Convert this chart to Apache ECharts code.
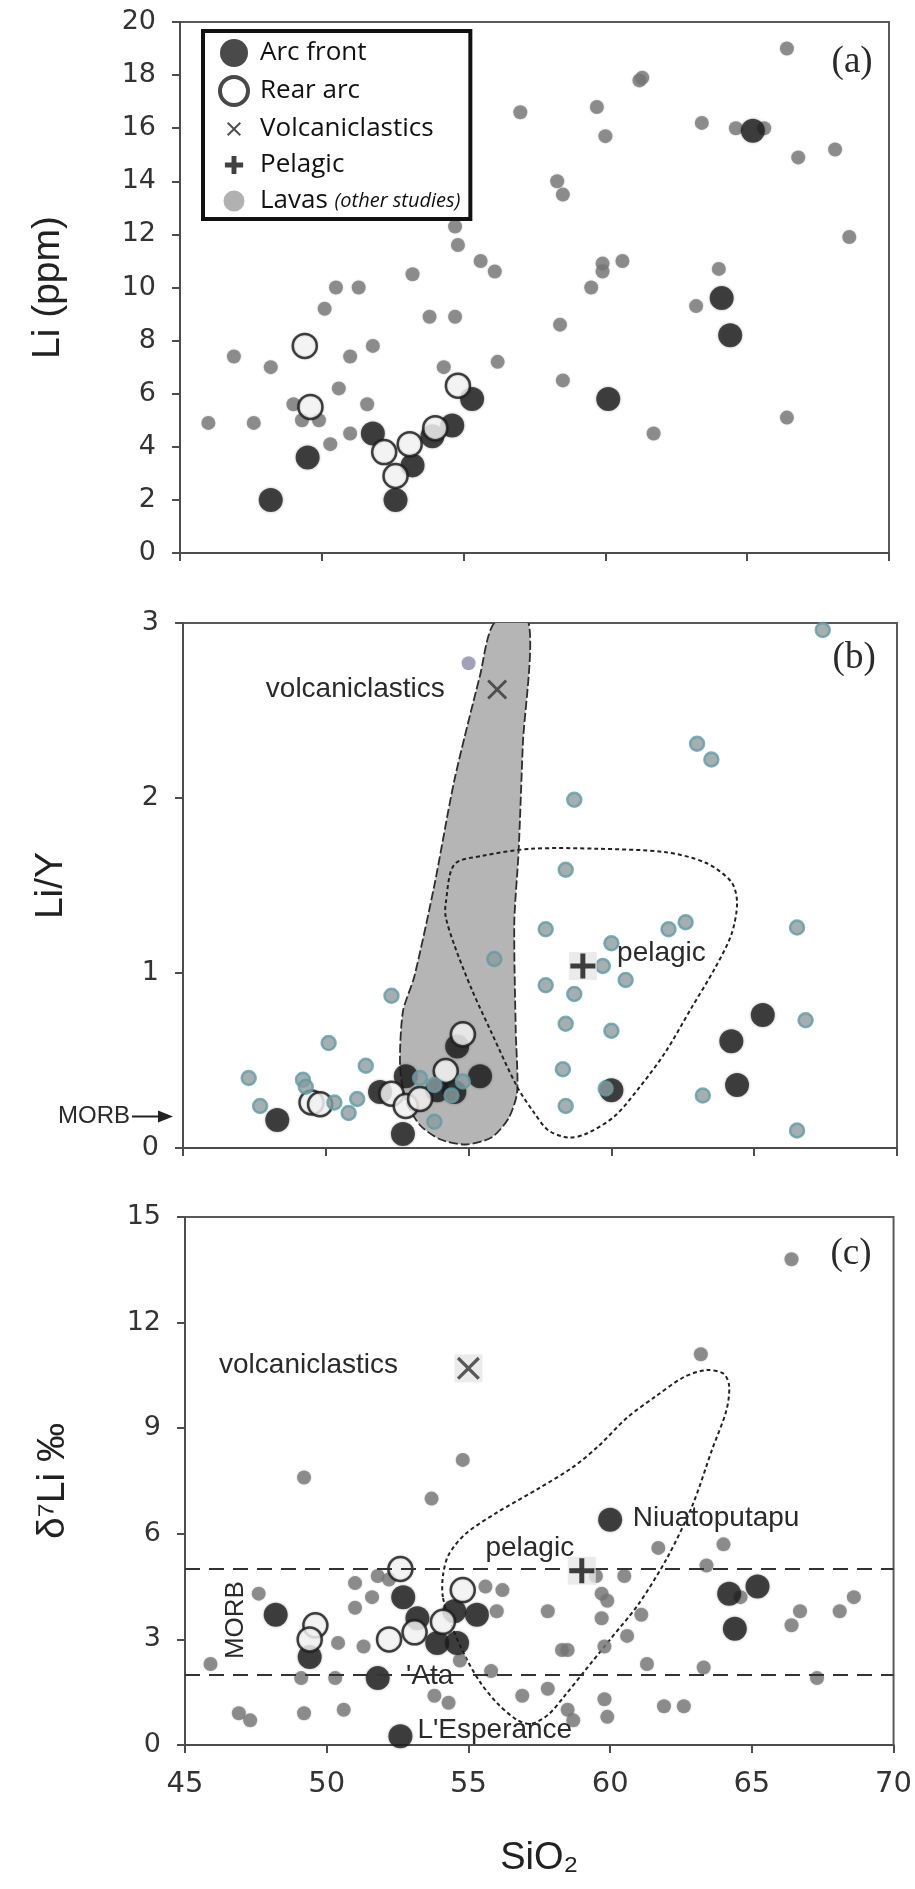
<!DOCTYPE html>
<html>
<head>
<meta charset="utf-8">
<script src="https://cdn.jsdelivr.net/npm/echarts@6/dist/echarts.min.js"></script>
<style>
  html, body { margin: 0; padding: 0; background: #fff; }
  #chart { width: 915px; height: 1889px; }
</style>
</head>
<body>
<div id="chart"></div>
<script>
// shared SiO2 axis
const siO2Range = [45, 70, 5];

// (a) Li (ppm)
const liRange = [0, 20, 2];
const liLavas = [
  [46.0, 4.9], [46.9, 7.4], [47.6, 4.9], [48.2, 7.0], [49.0, 5.6], [49.3, 5.0], [49.9, 5.0],
  [50.1, 9.2], [50.5, 10.0], [51.3, 10.0], [50.6, 6.2], [50.3, 4.1], [51.0, 7.4], [51.0, 4.5],
  [51.6, 5.6], [51.8, 7.8], [53.2, 10.5], [53.8, 8.9], [54.3, 7.0], [54.7, 8.9], [54.7, 12.3],
  [54.8, 11.6], [55.6, 11.0], [56.1, 10.6], [56.2, 7.2], [57.0, 16.6], [59.7, 16.8], [60.0, 15.7],
  [61.2, 17.8], [61.3, 17.9], [58.3, 14.0], [58.5, 13.5], [58.4, 8.6], [58.5, 6.5], [59.5, 10.0],
  [59.9, 10.9], [59.9, 10.6], [60.6, 11.0], [61.7, 4.5], [63.4, 16.2], [64.6, 16.0], [65.6, 16.0],
  [66.4, 19.0], [66.8, 14.9], [68.1, 15.2], [68.6, 11.9], [64.0, 10.7], [63.2, 9.3], [66.4, 5.1]
];
const liArcFront = [
  [48.2, 2.0], [49.5, 3.6], [51.8, 4.5], [52.6, 2.0], [53.2, 3.3], [53.9, 4.4], [54.6, 4.8],
  [55.3, 5.8], [60.1, 5.8], [64.1, 9.6], [64.4, 8.2], [65.2, 15.9]
];
const liRearArc = [
  [49.4, 7.8], [49.6, 5.5], [52.2, 3.8], [52.6, 2.9], [53.1, 4.1], [54.0, 4.7], [54.8, 6.3]
];

// (b) Li/Y
const liyRange = [0, 3, 1];
const liyLavas = [
  [47.3, 0.40], [47.7, 0.24], [49.2, 0.39], [49.3, 0.35], [50.1, 0.60], [50.3, 0.26], [50.8, 0.20],
  [51.1, 0.28], [51.4, 0.47], [52.3, 0.87], [53.3, 0.40], [53.8, 0.36], [54.4, 0.30], [54.8, 0.38],
  [53.8, 0.15], [55.9, 1.08], [67.4, 2.96], [63.0, 2.31], [63.5, 2.22], [58.7, 1.99], [58.4, 1.59],
  [57.7, 1.25], [60.0, 1.17], [62.0, 1.25], [62.6, 1.29], [66.5, 1.26], [59.7, 1.04], [60.5, 0.96],
  [57.7, 0.93], [58.7, 0.88], [58.4, 0.71], [60.0, 0.67], [66.8, 0.73], [58.3, 0.45], [59.8, 0.34],
  [58.4, 0.24], [63.2, 0.30], [66.5, 0.10]
];
const liyLavasViolet = [[55.0, 2.77]];
const liyArcFront = [
  [48.3, 0.16], [51.9, 0.32], [52.8, 0.41], [52.7, 0.08], [53.9, 0.33], [54.5, 0.32], [54.6, 0.58],
  [55.4, 0.41], [60.0, 0.33], [64.2, 0.61], [64.4, 0.36], [65.3, 0.76]
];
const liyRearArc = [
  [49.5, 0.26], [49.8, 0.25], [52.3, 0.31], [52.8, 0.24], [53.3, 0.28], [54.2, 0.44], [54.8, 0.65]
];
const liyVolcaniclastics = [[56.0, 2.62]];
const liyPelagic = [[59.0, 1.04]];
const liyMorb = 0.18;
const liyVolcField = [
  [55.9, 3.0], [55.4, 2.7], [54.5, 2.1], [53.8, 1.5], [53.1, 0.98], [52.7, 0.78], [52.6, 0.47],
  [52.8, 0.27], [53.3, 0.13], [54.0, 0.05], [54.9, 0.02], [55.8, 0.06], [56.4, 0.17], [56.7, 0.32],
  [56.65, 0.67], [56.6, 1.29], [56.75, 1.69], [56.9, 2.31], [57.1, 3.0]
];
const liyPelagicField = [
  [54.2, 1.40], [54.5, 1.62], [55.5, 1.67], [57.2, 1.71], [59.5, 1.71], [61.9, 1.69], [63.3, 1.63],
  [64.2, 1.52], [64.4, 1.40], [64.2, 1.22], [63.6, 1.02], [62.8, 0.80], [61.9, 0.55], [61.0, 0.35],
  [60.1, 0.18], [59.1, 0.08], [58.5, 0.06], [57.8, 0.10], [57.3, 0.20], [56.7, 0.35], [55.8, 0.66],
  [55.1, 0.91], [54.5, 1.16], [54.2, 1.32]
];

// (c) d7Li
const d7Range = [0, 15, 3];
const d7Lavas = [
  [45.9, 2.3], [46.9, 0.9], [47.3, 0.7], [47.6, 4.3], [49.2, 7.6], [49.1, 1.9], [49.2, 0.9],
  [50.4, 2.9], [50.3, 1.9], [50.6, 1.0], [51.0, 4.6], [51.0, 3.9], [51.3, 2.8], [51.6, 4.2],
  [51.8, 4.8], [52.2, 4.7], [53.7, 7.0], [54.8, 8.1], [53.8, 1.4], [54.3, 1.2], [54.7, 2.4],
  [55.6, 4.5], [56.2, 4.4], [56.0, 3.8], [55.8, 2.1], [56.9, 1.4], [66.4, 13.8], [63.2, 11.1],
  [61.7, 5.6], [64.0, 5.7], [63.4, 5.1], [60.5, 4.8], [59.5, 4.8], [57.8, 3.8], [59.7, 4.3],
  [59.9, 4.1], [59.7, 3.6], [61.1, 3.7], [58.3, 2.7], [58.5, 2.7], [59.8, 2.8], [60.6, 3.1],
  [61.3, 2.3], [63.3, 2.2], [64.6, 4.2], [66.7, 3.8], [66.4, 3.4], [68.1, 3.8], [68.6, 4.2],
  [67.3, 1.9], [57.8, 1.6], [59.8, 1.3], [59.9, 0.8], [61.9, 1.1], [62.6, 1.1], [58.5, 1.0], [58.7, 0.7]
];
const d7ArcFront = [
  [48.2, 3.7], [49.4, 2.5], [51.8, 1.9], [52.6, 0.25], [52.7, 4.2], [53.2, 3.6], [53.9, 2.9],
  [54.6, 2.9], [54.5, 3.8], [55.3, 3.7], [60.0, 6.4], [64.2, 4.3], [65.2, 4.5], [64.4, 3.3]
];
const d7RearArc = [
  [52.6, 5.0], [49.6, 3.4], [49.4, 3.0], [52.2, 3.0], [53.1, 3.2], [54.1, 3.5], [54.8, 4.4]
];
const d7Volcaniclastics = [[55.0, 10.7]];
const d7Pelagic = [[59.0, 4.95]];
const morbBand = [2, 5];
const d7PelagicField = [
  [54.1, 4.2], [54.1, 4.8], [54.3, 5.4], [54.9, 6.0], [56.0, 6.6], [57.5, 7.3], [58.7, 7.9],
  [59.6, 8.5], [60.6, 9.3], [61.6, 9.9], [62.6, 10.45], [63.4, 10.65], [64.0, 10.55], [64.2, 10.2],
  [64.1, 9.5], [63.6, 8.4], [62.9, 6.8], [62.0, 5.3], [61.0, 4.0], [60.0, 3.0], [59.1, 2.1],
  [58.4, 1.4], [57.8, 0.85], [57.2, 0.6], [56.7, 0.72], [56.0, 1.2], [55.4, 1.8], [54.9, 2.5], [54.4, 3.4]
];

// text notes: [text, x, y, align]
const notesA = [['(a)', 68.7, 18.5, 'center']];
const notesB = [['volcaniclastics', 47.9, 2.62, 'left'], ['pelagic', 60.2, 1.11, 'left'], ['(b)', 68.5, 2.8, 'center']];
const notesC = [
  ['volcaniclastics', 46.2, 10.8, 'left'], ['pelagic', 55.6, 5.6, 'left'], ['Niuatoputapu', 60.8, 6.44, 'left'],
  ["'Ata", 52.8, 1.96, 'left'], ["L'Esperance", 53.2, 0.42, 'left'], ['(c)', 68.5, 13.95, 'center']
];
const morbNoteC = [[46.8, 3.55]];

const chart = echarts.init(document.getElementById('chart'));

const xPath = 'path://M2,0L10,8L18,0L20,2L12,10L20,18L18,20L10,12L2,20L0,18L8,10L0,2Z';
const plusPath = 'path://M8,0H12V8H20V12H12V20H8V12H0V8H8Z';
// legend icons padded with invisible corner dots so they draw smaller
const pad = 'M0,0h0.01v0.01h-0.01zM40,40h-0.01v-0.01h0.01z';
const xIcon = 'path://' + pad + 'M12,10L20,18L28,10L30,12L22,20L30,28L28,30L20,22L12,30L10,28L18,20L10,12Z';
const plusIcon = 'path://' + pad + 'M16.5,7H23.5V16.5H33V23.5H23.5V33H16.5V23.5H7V16.5H16.5Z';
const lavaIcon = 'path://' + pad + 'M5,20a15,15 0 1,0 30,0a15,15 0 1,0 -30,0z';

const grids = [
  { left: 180, right: 26, top: 22, height: 531 },
  { left: 183, right: 18, top: 623, height: 525 },
  { left: 185, right: 20, top: 1217, height: 528 }
];
const yRanges = [liRange, liyRange, d7Range];
const yNames = ['Li (ppm)', 'Li/Y', 'δ⁷Li ‰'];

const lineCol = '#4d4d4d';

const xAxes = grids.map((g, i) => ({
  type: 'value', gridIndex: i, min: siO2Range[0], max: siO2Range[1], interval: siO2Range[2],
  axisLine: { show: true, lineStyle: { color: lineCol, width: 2 } },
  axisTick: { show: true, length: 8, lineStyle: { color: lineCol, width: 2 } },
  splitLine: { show: false },
  axisLabel: { show: i === 2, margin: 25, fontFamily: 'DejaVu Sans', fontSize: 29, color: '#333' },
  name: i === 2 ? 'SiO₂' : '', nameLocation: 'middle', nameGap: 95,
  nameTextStyle: { fontFamily: 'Liberation Sans', fontSize: 38, color: '#222' }
}));

const yAxes = grids.map((g, i) => ({
  type: 'value', gridIndex: i, min: yRanges[i][0], max: yRanges[i][1], interval: yRanges[i][2],
  axisLine: { show: true, lineStyle: { color: lineCol, width: 2 } },
  axisTick: { show: true, length: 8, lineStyle: { color: lineCol, width: 2 } },
  splitLine: { show: false },
  axisLabel: { margin: 24, fontFamily: 'DejaVu Sans', fontSize: 27, color: '#333' },
  name: yNames[i], nameLocation: 'middle', nameGap: 112,
  nameTextStyle: { fontFamily: 'Liberation Sans', fontSize: 39, color: '#222' }
}));

function scatter(name, gi, data, kind, z) {
  const s = { name: name, type: 'scatter', xAxisIndex: gi, yAxisIndex: gi, data: data, z: z, silent: true };
  if (kind === 'arc') {
    Object.assign(s, { symbol: 'circle', symbolSize: 24,
      itemStyle: { color: '#1d1d1d', shadowBlur: 3, shadowColor: 'rgba(0,0,0,0.35)' } });
  } else if (kind === 'rear') {
    Object.assign(s, { symbol: 'circle', symbolSize: 24,
      itemStyle: { color: '#fff', borderColor: '#1a1a1a', borderWidth: 2.5, shadowBlur: 2, shadowColor: 'rgba(0,0,0,0.3)' } });
  } else if (kind === 'lava') {
    Object.assign(s, { symbol: 'circle', symbolSize: 14,
      itemStyle: { color: '#7b7b7b', shadowBlur: 2, shadowColor: 'rgba(0,0,0,0.25)' } });
  } else if (kind === 'teal') {
    Object.assign(s, { symbol: 'circle', symbolSize: 14,
      itemStyle: { color: '#8e9a9d', borderColor: '#5f9ca5', borderWidth: 2.5 } });
  } else if (kind === 'violet') {
    Object.assign(s, { symbol: 'circle', symbolSize: 14, itemStyle: { color: '#8c89a6' } });
  } else if (kind === 'x') {
    Object.assign(s, { symbol: xPath, symbolSize: 20, itemStyle: { color: '#333' } });
  } else if (kind === 'plus') {
    Object.assign(s, { symbol: plusPath, symbolSize: 25, itemStyle: { color: '#111' } });
  } else if (kind === 'box') {
    Object.assign(s, { symbol: 'rect', symbolSize: 28, itemStyle: { color: '#e6e6e6' } });
  }
  return s;
}

function field(gi, outline, style, smooth) {
  return {
    type: 'custom', xAxisIndex: gi, yAxisIndex: gi, silent: true, clip: true, z: 1,
    data: [outline[0]],
    renderItem: function (params, api) {
      return { type: 'polygon', shape: { points: outline.map(p => api.coord(p)), smooth: smooth }, style: style };
    }
  };
}

function notes(gi, items) {
  return {
    type: 'custom', xAxisIndex: gi, yAxisIndex: gi, silent: true, clip: false, z: 8,
    data: items.map(t => [t[1], t[2]]),
    renderItem: function (params, api) {
      const t = items[params.dataIndex];
      const p = api.coord([api.value(0), api.value(1)]);
      const paren = t[0].charAt(0) === '(';
      return {
        type: 'text', x: p[0], y: p[1],
        style: {
          text: t[0], align: t[3], verticalAlign: 'middle', fill: '#2a2a2a',
          fontFamily: paren ? 'Liberation Serif' : 'Liberation Sans', fontSize: paren ? 37 : 28
        }
      };
    }
  };
}

const series = [
  // (a)
  scatter('Lavas', 0, liLavas, 'lava', 2),
  scatter('Arc front', 0, liArcFront, 'arc', 3),
  scatter('Rear arc', 0, liRearArc, 'rear', 4),
  notes(0, notesA),

  // (b)
  field(1, liyVolcField, { fill: '#b5b5b5', stroke: '#2e2e2e', lineWidth: 1.8, lineDash: [9, 3] }, 0.25),
  field(1, liyPelagicField, { fill: 'none', stroke: '#222', lineWidth: 2, lineDash: [4, 3] }, 0.3),
  scatter('Arc front', 1, liyArcFront, 'arc', 3),
  scatter('Rear arc', 1, liyRearArc, 'rear', 4),
  scatter('Lavas', 1, liyLavas, 'teal', 5),
  scatter('Lavas', 1, liyLavasViolet, 'violet', 5),
  scatter('', 1, liyPelagic, 'box', 5),
  scatter('Volcaniclastics', 1, liyVolcaniclastics, 'x', 6),
  scatter('Pelagic', 1, liyPelagic, 'plus', 6),
  notes(1, notesB),
  {
    type: 'custom', xAxisIndex: 1, yAxisIndex: 1, silent: true, clip: false, z: 8,
    data: [[siO2Range[0], liyMorb]],
    renderItem: function (params, api) {
      const p = api.coord([api.value(0), api.value(1)]);
      return {
        type: 'group', children: [
          { type: 'text', x: p[0] - 53, y: p[1], style: { text: 'MORB', align: 'right', verticalAlign: 'middle',
            fill: '#2a2a2a', fontFamily: 'Liberation Sans', fontSize: 24 } },
          { type: 'line', shape: { x1: p[0] - 51, y1: p[1], x2: p[0] - 22, y2: p[1] }, style: { stroke: '#222', lineWidth: 2 } },
          { type: 'polygon', shape: { points: [[p[0] - 25, p[1] - 6], [p[0] - 10, p[1]], [p[0] - 25, p[1] + 6]] }, style: { fill: '#222' } }
        ]
      };
    }
  },

  // (c)
  field(2, d7PelagicField, { fill: 'none', stroke: '#222', lineWidth: 2, lineDash: [4, 3] }, 0.3),
  Object.assign(scatter('Lavas', 2, d7Lavas, 'lava', 2), {
    markLine: {
      silent: true, symbol: 'none', label: { show: false },
      lineStyle: { type: [15, 9], color: '#333', width: 2 },
      data: morbBand.map(v => ({ yAxis: v }))
    }
  }),
  scatter('Arc front', 2, d7ArcFront, 'arc', 3),
  scatter('Rear arc', 2, d7RearArc, 'rear', 4),
  scatter('', 2, d7Volcaniclastics, 'box', 5),
  scatter('', 2, d7Pelagic, 'box', 5),
  Object.assign(scatter('Volcaniclastics', 2, d7Volcaniclastics, 'x', 6), { symbolSize: 23 }),
  scatter('Pelagic', 2, d7Pelagic, 'plus', 6),
  notes(2, notesC),
  {
    type: 'custom', xAxisIndex: 2, yAxisIndex: 2, silent: true, clip: false, z: 8,
    data: morbNoteC,
    renderItem: function (params, api) {
      const p = api.coord([api.value(0), api.value(1)]);
      return { type: 'text', x: p[0], y: p[1], rotation: Math.PI / 2,
        style: { text: 'MORB', align: 'center', verticalAlign: 'middle', fill: '#2a2a2a',
          fontFamily: 'Liberation Sans', fontSize: 26 } };
    }
  }
];

chart.setOption({
  backgroundColor: '#fff',
  animation: false,
  grid: grids.map(g => Object.assign({ show: true, borderColor: '#5a5a5a', borderWidth: 2, backgroundColor: 'transparent' }, g)),
  xAxis: xAxes,
  yAxis: yAxes,
  legend: {
    left: 203, top: 31, orient: 'vertical', selectedMode: false,
    itemWidth: 28, itemHeight: 28, itemGap: 8, padding: [8, 10, 4, 15],
    borderColor: '#111', borderWidth: 4, backgroundColor: '#fff',
    data: [
      { name: 'Arc front' },
      { name: 'Rear arc', itemStyle: { borderWidth: 4 } },
      { name: 'Volcaniclastics', icon: xIcon, itemStyle: { color: '#222' } },
      { name: 'Pelagic', icon: plusIcon, itemStyle: { color: '#111' } },
      { name: 'Lavas', icon: lavaIcon, itemStyle: { color: '#9e9e9e', borderWidth: 0, shadowBlur: 0 } }
    ],
    formatter: n => (n === 'Lavas' ? 'Lavas {i|(other studies)}' : n),
    textStyle: {
      fontFamily: 'Open Sans', fontSize: 26, color: '#111', padding: [0, 0, 0, 7],
      rich: { i: { fontFamily: 'Open Sans', fontStyle: 'italic', fontSize: 20, color: '#111' } }
    }
  },
  series: series
});
</script>
</body>
</html>
